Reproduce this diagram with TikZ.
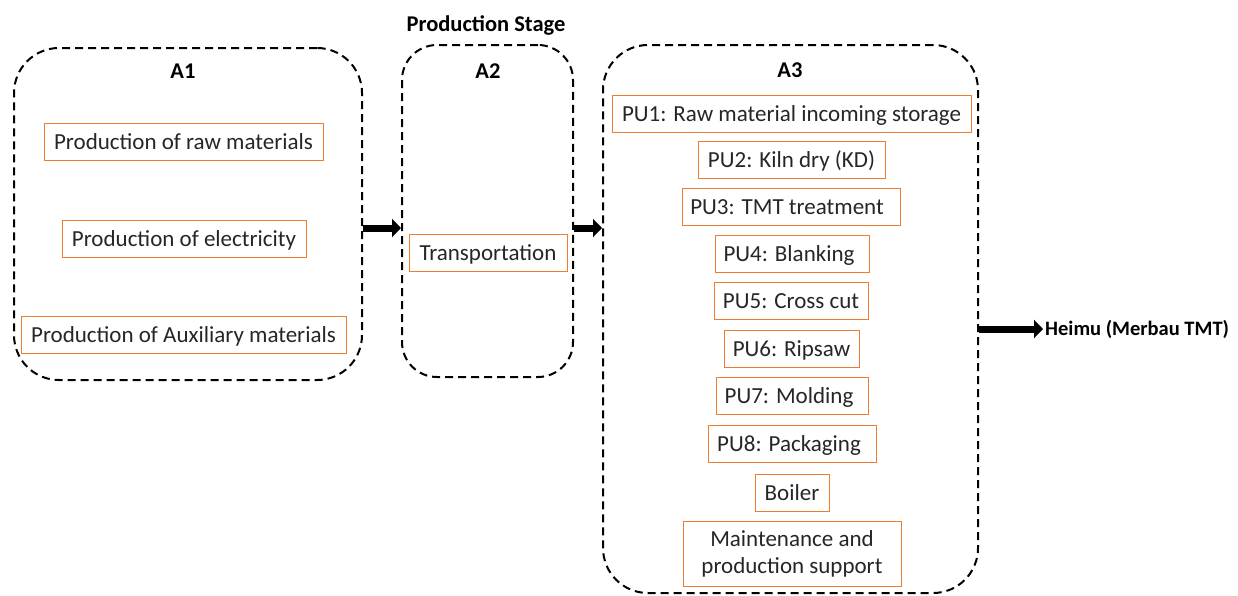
\documentclass[tikz,border=0pt]{standalone}
\usepackage{fontspec}
\setmainfont{Carlito}
\usetikzlibrary{arrows.meta}
\definecolor{boxorange}{RGB}{237,125,49}
\tikzset{
  x=1pt, y=-1pt,
  stage/.style={draw=black, line width=2pt, dash pattern=on 8pt off 5pt, rounded corners=45pt, inner sep=0pt, fill=none},
  item/.style={draw=boxorange, line width=1pt, inner sep=0pt, align=center, font=\fontsize{23}{27}\selectfont, text=black!85, text height=18pt, text depth=1.6pt},
  itemtwo/.style={draw=boxorange, line width=1pt, inner sep=0pt, align=center, font=\fontsize{23}{27}\selectfont, text=black!85},
  stagelabel/.style={font=\fontsize{22.5}{27}\selectfont\bfseries},
  blockarrow/.style={line width=7pt, -{Triangle[length=9pt,width=18pt]}}
}
\begin{document}
\begin{tikzpicture}
\useasboundingbox (0,0) rectangle (1238,595);
% stage boxes
\node[stage, minimum width=348pt, minimum height=332pt] (A1) at (188,214) {};
\node[stage, minimum width=171pt, minimum height=332pt, rounded corners=35pt] (A2) at (487.5,211) {};
\node[stage, minimum width=375pt, minimum height=548pt] (A3) at (790.5,319) {};
% labels
\node[stagelabel] (title) at (486,25) {Production Stage};
\node[stagelabel] (l1) at (183,71) {A1};
\node[stagelabel] (l2) at (488,71) {A2};
\node[stagelabel] (l3) at (790,70) {A3};
% A1 items
\node[item, minimum width=279pt, minimum height=37pt] (raw) at (183.5,141.5) {Production of raw materials};
\node[item, minimum width=244pt, minimum height=37pt] (elec) at (184,238.5) {Production of electricity};
\node[item, minimum width=325pt, minimum height=37pt] (aux) at (183.5,334.5) {Production of Auxiliary materials};
% A2 item
\node[item, minimum width=158pt, minimum height=37pt] (trans) at (488,252.5) {Transportation};
% A3 items
\node[item, minimum width=359pt, minimum height=37pt] (pu1) at (791.5,113.5) {PU1: Raw material incoming storage};
\node[item, minimum width=187pt, minimum height=37pt] (pu2) at (791.5,159.5) {PU2: Kiln dry (KD)};
\node[item, minimum width=218pt, minimum height=37pt] (pu3) at (791,206.5) {PU3: TMT treatment\hspace{8pt}};
\node[item, minimum width=154pt, minimum height=37pt] (pu4) at (792,253.5) {PU4: Blanking\hspace{6pt}};
\node[item, minimum width=154pt, minimum height=37pt] (pu5) at (791,300.5) {PU5: Cross cut};
\node[item, minimum width=135pt, minimum height=37pt] (pu6) at (791.5,348.5) {PU6: Ripsaw};
\node[item, minimum width=152pt, minimum height=37pt] (pu7) at (792,395.5) {PU7: Molding\hspace{6pt}};
\node[item, minimum width=168pt, minimum height=37pt] (pu8) at (792,443.5) {PU8: Packaging\hspace{6pt}};
\node[item, minimum width=74pt, minimum height=37pt] (boiler) at (792,492.5) {Boiler};
\node[itemtwo, minimum width=218pt, minimum height=65pt] (maint) at (792,553.5) {Maintenance and\\production support};
% output
\node[stagelabel, font=\fontsize{20.5}{24}\selectfont\bfseries, anchor=west, inner sep=2pt] (heimu) at (1043,329) {Heimu (Merbau TMT)};
% arrows
\coordinate (r1) at (0,228);
\draw[blockarrow] (A1.east |- r1) -- (A2.west |- r1);
\draw[blockarrow] (A2.east |- r1) -- (A3.west |- r1);
\draw[blockarrow] (A3.east |- heimu) -- (heimu.west);
\end{tikzpicture}
\end{document}
